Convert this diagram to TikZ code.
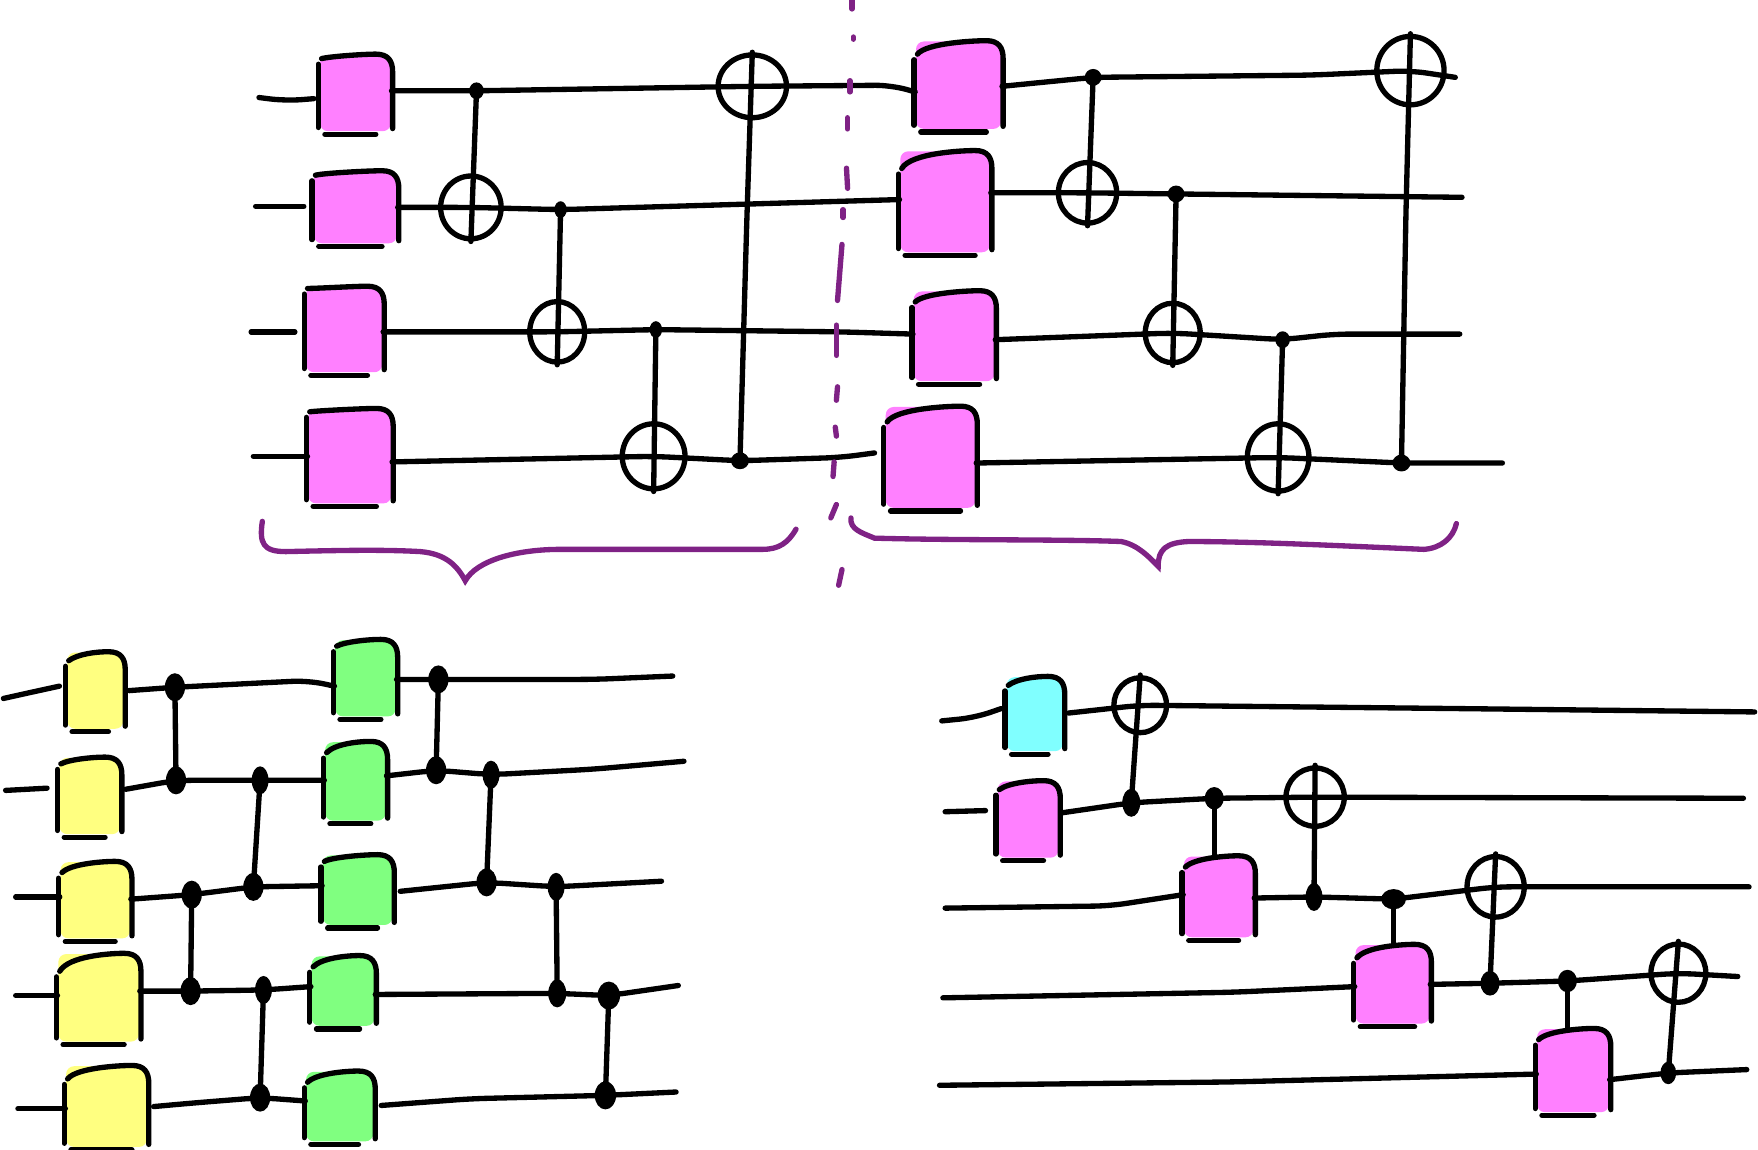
\documentclass[tikz,border=0pt]{standalone}
\usetikzlibrary{calc,shapes.geometric}

\definecolor{pinkgate}{HTML}{FF80FF}
\definecolor{yellowgate}{HTML}{FFFF80}
\definecolor{greengate}{HTML}{80FF80}
\definecolor{cyangate}{HTML}{80FFFF}
\definecolor{cutpurple}{HTML}{7F2285}

\tikzset{
    wire/.style={line width=1.35pt, line cap=round, line join=round, rounded corners=4pt},
    gatefill/.style={rectangle, rounded corners=2pt, inner sep=0pt},
    ctrl/.style={ellipse, fill=black, inner sep=0pt, minimum width=0.13cm, minimum height=0.15cm},
    bigctrl/.style={ellipse, fill=black, inner sep=0pt, minimum width=0.18cm, minimum height=0.25cm},
    oplus/.style 2 args={ellipse, draw, line width=1.35pt, inner sep=0pt, minimum width=#1*0.01cm, minimum height=#2*0.01cm},
    cut/.style={line width=1.35pt, line cap=round, color=cutpurple},
    bracket/.style={line width=1.35pt, line cap=round, color=cutpurple}
}

% name, x, y, width, height, colour, drop of the top left corner
\newcommand{\sketchgate}[7]{
    \node[gatefill, fill=#6, minimum width=#4*0.01cm, minimum height=#5*0.01cm] (#1) at (#2,#3) {};
    \draw[wire] ($(#1.north west)+(-1,#7+5)$) -- ($(#1.south west)+(-1,-4)$);
    \draw[wire, rounded corners=0pt] ($(#1.north west)+(2,#7)$) .. controls ($(#1.north west)+(10,2)$) and ($(#1.north east)+(-25,0)$) .. ($(#1.north east)+(-14,0)$)
        .. controls ($(#1.north east)+(-3,0)$) and ($(#1.north east)+(1,6)$) .. ($(#1.north east)+(1,16)$) -- ($(#1.south east)+(1,-3)$);
    \draw[wire] ($(#1.south west)+(5,2)$) -- ($(#1.south east)+(-14,2)$);
}

\begin{document}
\begin{tikzpicture}[x=0.01cm, y=-0.01cm]
    \useasboundingbox (0,0) rectangle (1568,1025);

    \sketchgate{A1}{317}{83}{63}{68}{pinkgate}{4}
    \sketchgate{A2}{317}{185}{74}{64}{pinkgate}{4}
    \sketchgate{A3}{307}{294}{68}{76}{pinkgate}{2}
    \sketchgate{A4}{312}{407}{74}{84}{pinkgate}{3}
    \sketchgate{B1}{855}{76}{76}{78}{pinkgate}{12}
    \sketchgate{B2}{843}{180}{80}{90}{pinkgate}{16}
    \sketchgate{B3}{851}{300}{72}{80}{pinkgate}{10}
    \sketchgate{B4}{830}{408}{80}{90}{pinkgate}{14}

    \node[ctrl] (A1c) at (425,81) {};
    \node[ctrl, minimum width=0.11cm] (A2c) at (500,187) {};
    \node[ctrl, minimum width=0.11cm] (A3c) at (585,294) {};
    \node[ctrl, minimum width=0.16cm] (A4c) at (660,411) {};
    \node[oplus={54}{56}] (A1x) at (420,185) {};
    \node[oplus={49}{54}] (A2x) at (497,296) {};
    \node[oplus={56}{58}] (A3x) at (583,407) {};
    \node[oplus={61}{56}] (A4x) at (671,77) {};
    \node[ctrl, minimum width=0.15cm] (B1c) at (975,69) {};
    \node[ctrl, minimum width=0.15cm] (B2c) at (1049,173) {};
    \node[ctrl] (B3c) at (1144,303) {};
    \node[ctrl, minimum width=0.16cm] (B4c) at (1250,413) {};
    \node[oplus={52}{54}] (B1x) at (970,172) {};
    \node[oplus={49}{53}] (B2x) at (1046,297) {};
    \node[oplus={55}{60}] (B3x) at (1140,408) {};
    \node[oplus={60}{61}] (B4x) at (1258,63) {};

    \coordinate (A1in) at (231,87);
    \coordinate (A1stub) at (280,88);
    \coordinate (A2in) at (228,184);
    \coordinate (A2stub) at (271,184);
    \coordinate (A3in) at (224,296);
    \coordinate (A3stub) at (263,296);
    \coordinate (A4in) at (226,407);
    \coordinate (B1end) at (1298,69);
    \coordinate (B2end) at (1304,176);
    \coordinate (B3end) at (1302,298);
    \coordinate (B4end) at (1340,413);
    \coordinate (B1mid) at (1170,67);
    \coordinate (B3mid) at (1190,298);

    \draw[wire] (A1in) -- (255,90) -- (A1stub);
    \draw[wire] (A2in) -- (A2stub);
    \draw[wire] (A3in) -- (A3stub);
    \draw[wire] (A4in) -- (A4.west |- A4in);
    \draw[wire] (A1.east |- A1c.center) -- (A1c.center) -- (A4x.center) -- (795,76) -- (B1.west |- 818,82);
    \draw[wire] (A2.east |- A1x.center) -- (A1x.center) -- (A2c.center) -- (B2.west |- 803,178);
    \draw[wire] (A3.east |- A2x.center) -- (A2x.center) -- (A3c.center) -- (750,296) -- (B3.west |- 750,298);
    \draw[wire] (A4.east |- 348,412) -- (A3x.center) -- (A4c.center) -- (750,408) -- (780,404);
    \draw[wire] (B1.east |- A4x.center) -- (B1c.center) -- (B1mid) -- (B4x.center) -- (B1end);
    \draw[wire] (B2.east |- B1x.center) -- (B1x.center) -- (B2c.center) -- (B2end);
    \draw[wire] (B3.east |- B3c.center) -- (B2x.center) -- (B3c.center) -- (B3mid) -- (B3end);
    \draw[wire] (B4.east |- B4c.center) -- (B3x.center) -- (B4c.center) -- (B4end);

    \draw[wire] (A1c.center) -- (A1x.south);
    \draw[wire] (A2c.center) -- (A2x.south);
    \draw[wire] (A3c.center) -- (A3x.south);
    \draw[wire] (A4c.center) -- (666,200) -- (A4x.north);
    \draw[wire] (B1c.center) -- (B1x.south);
    \draw[wire] (B2c.center) -- (B2x.south);
    \draw[wire] (B3c.center) -- (B3x.south);
    \draw[wire] (B4c.center) -- (1254,190) -- (B4x.north);

    \foreach \xa/\ya/\xb/\yb in {760/0/760/8, 761/33/761/35, 758/72/758/82, 756/105/756/115,
        755/150/756/168, 752/187/752/194, 751/218/747/268, 746/290/746/317, 747/345/746/357,
        745/381/746/389, 744/412/743/425, 746/450/741/462, 751/508/748/522}
        \draw[cut] (\xa,\ya) -- (\xb,\yb);

    \draw[bracket] (234,465) .. controls (231,485) and (235,492) .. (255,492)
        .. controls (300,491) and (340,490) .. (375,492)
        .. controls (398,494) and (408,505) .. (415,518)
        .. controls (425,500) and (460,490) .. (500,490)
        -- (680,490) .. controls (695,490) and (703,484) .. (710,472);
    \draw[bracket] (759,462) .. controls (758,472) and (768,475) .. (780,480)
        .. controls (850,482) and (950,481) .. (1000,483)
        .. controls (1015,486) and (1025,497) .. (1033,505)
        .. controls (1033,490) and (1040,484) .. (1060,483)
        .. controls (1120,483) and (1200,487) .. (1270,490)
        .. controls (1285,489) and (1296,480) .. (1299,467);

    \sketchgate{Y1}{85}{616}{50}{68}{yellowgate}{8}
    \sketchgate{Y2}{80}{710}{54}{68}{yellowgate}{6}
    \sketchgate{Y3}{85}{803}{62}{68}{yellowgate}{10}
    \sketchgate{Y4}{88}{890}{72}{78}{yellowgate}{16}
    \sketchgate{Y5}{95}{987}{72}{72}{yellowgate}{12}
    \sketchgate{G1}{326}{605}{54}{68}{greengate}{6}
    \sketchgate{G2}{317}{697}{54}{70}{greengate}{10}
    \sketchgate{G3}{319}{794}{62}{62}{greengate}{6}
    \sketchgate{G4}{306}{884}{56}{62}{greengate}{10}
    \sketchgate{G5}{303}{987}{60}{62}{greengate}{10}

    \node[bigctrl] (L1a) at (156,613) {};
    \node[bigctrl] (L1b) at (391,606) {};
    \node[bigctrl] (L2a) at (157,696) {};
    \node[bigctrl, minimum width=0.15cm] (L2b) at (232,696) {};
    \node[bigctrl] (L2c) at (389,687) {};
    \node[bigctrl, minimum width=0.15cm] (L2d) at (438,691) {};
    \node[bigctrl] (L3a) at (171,798) {};
    \node[bigctrl] (L3b) at (226,791) {};
    \node[bigctrl] (L3c) at (434,787) {};
    \node[bigctrl, minimum width=0.15cm] (L3d) at (496,791) {};
    \node[bigctrl] (L4a) at (170,884) {};
    \node[bigctrl, minimum width=0.15cm] (L4b) at (235,883) {};
    \node[bigctrl, minimum width=0.16cm] (L4c) at (497,886) {};
    \node[bigctrl, minimum width=0.2cm] (L4d) at (543,888) {};
    \node[bigctrl] (L5a) at (232,979) {};
    \node[bigctrl, minimum width=0.19cm] (L5b) at (540,977) {};

    \coordinate (L1in) at (3,623);
    \coordinate (L2in) at (5,705);
    \coordinate (L3in) at (14,800);
    \coordinate (L4in) at (14,888);
    \coordinate (L5in) at (16,989);
    \coordinate (L1end) at (600,603);
    \coordinate (L2end) at (610,679);
    \coordinate (L3end) at (590,786);
    \coordinate (L4end) at (605,879);
    \coordinate (L5end) at (603,974);

    \draw[wire] (L1in) -- (30,617) -- (53,612);
    \draw[wire] (L2in) -- (42,703);
    \draw[wire] (L3in) -- (Y3.west |- L3in);
    \draw[wire] (L4in) -- (Y4.west |- L4in);
    \draw[wire] (L5in) -- (Y5.west |- L5in);
    \draw[wire] (115,616) -- (L1a.center) -- (275,607) -- (G1.west |- 298,612);
    \draw[wire] (G1.east |- L1b.center) -- (L1b.center) -- (530,606) -- (L1end);
    \draw[wire] (112,704) -- (L2a.center) -- (L2b.center) -- (G2.west |- L2b.center);
    \draw[wire] (G2.east |- 345,692) -- (L2c.center) -- (L2d.center) -- (530,686) -- (L2end);
    \draw[wire] (Y3.east |- 118,802) -- (L3a.center) -- (L3b.center) -- (G3.west |- 288,790);
    \draw[wire] (357,795) -- (L3c.center) -- (L3d.center) -- (L3end);
    \draw[wire] (Y4.east |- L4a.center) -- (L4a.center) -- (L4b.center) -- (G4.west |- 278,880);
    \draw[wire] (G4.east |- 335,887) -- (L4c.center) -- (L4d.center) -- (L4end);
    \draw[wire] (137,987) -- (170,984) -- (L5a.center) -- (G5.west |- 272,982);
    \draw[wire] (340,986) -- (420,980) -- (L5b.center) -- (L5end);

    \draw[wire] (L1a.center) -- (L2a.center);
    \draw[wire] (L2b.center) -- (L3b.center);
    \draw[wire] (L3a.center) -- (L4a.center);
    \draw[wire] (L4b.center) -- (L5a.center);
    \draw[wire] (L1b.center) -- (L2c.center);
    \draw[wire] (L2d.center) -- (L3c.center);
    \draw[wire] (L3d.center) -- (L4c.center);
    \draw[wire] (L4d.center) -- (L5b.center);

    \sketchgate{C1}{923}{637}{50}{66}{cyangate}{8}
    \sketchgate{P2}{917}{731}{54}{68}{pinkgate}{8}
    \sketchgate{P3}{1087}{800}{62}{72}{pinkgate}{10}
    \sketchgate{P4}{1242}{878}{66}{70}{pinkgate}{12}
    \sketchgate{P5}{1403}{955}{64}{74}{pinkgate}{10}

    \node[bigctrl, minimum width=0.16cm] (R2a) at (1009,716) {};
    \node[bigctrl, minimum width=0.17cm, minimum height=0.2cm] (R2b) at (1083,712) {};
    \node[bigctrl, minimum width=0.15cm] (R3a) at (1172,800) {};
    \node[bigctrl, minimum width=0.22cm, minimum height=0.18cm] (R3b) at (1243,802) {};
    \node[bigctrl, minimum width=0.17cm, minimum height=0.22cm] (R4a) at (1329,877) {};
    \node[bigctrl, minimum width=0.17cm, minimum height=0.2cm] (R4b) at (1398,875) {};
    \node[bigctrl, minimum width=0.14cm, minimum height=0.2cm] (R5a) at (1488,957) {};
    \node[oplus={47}{49}] (R1x) at (1017,629) {};
    \node[oplus={52}{52}] (R2x) at (1173,711) {};
    \node[oplus={51}{54}] (R3x) at (1334,791) {};
    \node[oplus={49}{52}] (R4x) at (1497,868) {};

    \coordinate (R1in) at (840,643);
    \coordinate (R2in) at (843,724);
    \coordinate (R3in) at (843,810);
    \coordinate (R4in) at (841,890);
    \coordinate (R5in) at (838,968);
    \coordinate (R1end) at (1565,635);
    \coordinate (R2end) at (1555,712);
    \coordinate (R3end) at (1560,791);
    \coordinate (R4end) at (1550,871);
    \coordinate (R5end) at (1558,954);

    \draw[wire] (R1in) -- (870,640) -- (893,632);
    \draw[wire] (R2in) -- (879,723);
    \draw[wire] (R3in) -- (990,808) -- (P3.west |- 1055,798);
    \draw[wire] (R4in) -- (1100,885) -- (P4.west |- 1207,880);
    \draw[wire] (R5in) -- (1100,965) -- (P5.west |- 1367,958);
    \draw[wire] (953,636) -- (R1x.center) -- (1110,630) -- (1300,632) -- (R1end);
    \draw[wire] (947,725) -- (R2a.center) -- (R2b.center) -- (R2x.center) -- (R2end);
    \draw[wire] (P3.east |- 1118,801) -- (R3a.center) -- (R3b.center) -- (R3x.center) -- (R3end);
    \draw[wire] (P4.east |- 1276,878) -- (R4a.center) -- (R4b.center) -- (R4x.center) -- (R4end);
    \draw[wire] (P5.east |- 1436,963) -- (R5a.center) -- (R5end);

    \draw[wire] (R2a.center) -- (R1x.north);
    \draw[wire] (R2b.center) -- (P3.north -| R2b.center);
    \draw[wire] (R3a.center) -- (R2x.north);
    \draw[wire] (R3b.center) -- (P4.north -| R3b.center);
    \draw[wire] (R4a.center) -- (R3x.north);
    \draw[wire] (R4b.center) -- (P5.north -| R4b.center);
    \draw[wire] (R5a.center) -- (R4x.north);
\end{tikzpicture}
\end{document}
